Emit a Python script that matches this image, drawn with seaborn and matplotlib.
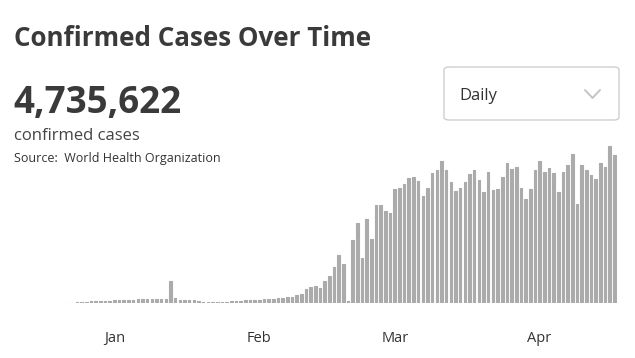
import pandas as pd
import numpy as np
import matplotlib.pyplot as plt
import seaborn as sns
from matplotlib.patches import FancyBboxPatch
from matplotlib.lines import Line2D

# daily new confirmed cases (one bar per day)
start_date = '2019-12-21'
daily_cases = [
    300, 300, 300, 600, 600, 600, 1300, 1300, 1300, 1300, 1300,
    1900, 1900, 1900, 1900, 1900,
    2500, 2500, 2800, 2800, 2500, 2500, 2200,
    13900, 3200,
    1900, 1900, 1900, 1600, 1300,
    600, 900, 900, 900, 900, 900,
    1300, 1300, 1300, 1600, 1600,
    1900, 1900, 2200, 2500, 2800, 3200, 3200, 3500, 3800,
    5000, 5700, 8800, 10100, 10700, 9500, 13900, 17000, 22700, 30200, 24600,
    1300, 39700, 50400, 28400, 52900, 40300, 61100, 61100, 57300, 56100,
    71200, 71800, 74300, 78100, 78800, 76200, 66800, 71800, 81300, 83200,
    88800, 83200, 75600, 69900, 71800, 75600, 80600, 83200, 76900, 69300,
    81900, 70600, 71200, 78800, 87600, 83800, 85100, 71800, 64900, 71200,
    83200, 88800, 81900, 84400, 81300, 69300, 81900, 86300, 93200, 61700,
    86300, 83200, 80000, 77500, 87600, 85100, 98300, 92600,
]
month_starts = ['2020-01-01', '2020-02-01', '2020-03-01', '2020-04-01']
month_labels = ['Jan', 'Feb', 'Mar', 'Apr']
total_cases = '4,735,622'

df = pd.DataFrame({'date': pd.date_range(start_date, periods=len(daily_cases)),
                   'cases': daily_cases})
df['day'] = np.arange(len(df))

sns.set_style('white')
plt.rcParams['font.family'] = ['Open Sans', 'DejaVu Sans']

W, H = 635, 358
fig = plt.figure(figsize=(W / 100, H / 100), dpi=100)
ax = fig.add_axes([60.7 / W, 55 / H, 556 / W, 159.7 / H])

bar_col = '#ababab'
sns.barplot(data=df, x='day', y='cases', color=bar_col, width=0.55,
            saturation=1, ax=ax)
for p in ax.patches:
    p.set_edgecolor(bar_col)
    p.set_linewidth(0.8)
    p.set_joinstyle('round')

ax.set_xlim(-0.5, len(df) - 0.5)
ax.set_ylim(0, 100000)
tick_days = [(pd.Timestamp(m) - pd.Timestamp(start_date)).days for m in month_starts]
ax.set_xticks(tick_days)
ax.set_xticklabels(month_labels)
ax.set_yticks([])
ax.tick_params(axis='x', length=0, pad=20, labelsize=10.5, labelcolor='#333333')
ax.set_xlabel('')
ax.set_ylabel('')
sns.despine(ax=ax, left=True, bottom=True)

# header texts
fig.text(14 / W, 1 - 46 / H, 'Confirmed Cases Over Time', fontsize=18.7,
         fontweight='bold', color='#3a3a3a', va='baseline')
fig.text(13 / W, 1 - 113 / H, total_cases, fontsize=26.5, fontweight='bold',
         color='#3a3a3a', va='baseline')
fig.text(14 / W, 1 - 140 / H, 'confirmed cases', fontsize=12,
         color='#444444', va='baseline')
fig.text(14 / W, 1 - 162 / H, 'Source:  World Health Organization', fontsize=9,
         color='#333333', va='baseline')

# dropdown box
box = FancyBboxPatch((444 / W, 1 - 120 / H), 175 / W, 53 / H,
                     boxstyle='round,pad=0,rounding_size=0.008',
                     transform=fig.transFigure, facecolor='white',
                     edgecolor='#cfcfcf', linewidth=1)
fig.patches.append(box)
fig.text(459 / W, 1 - 96 / H, 'Daily', fontsize=12, color='#333333', va='center')
fig.lines.append(Line2D([585 / W, 592.5 / W, 600 / W],
                        [1 - 90 / H, 1 - 98 / H, 1 - 90 / H],
                        transform=fig.transFigure, color='#c4c4c4', linewidth=1.4))

fig.savefig('out.png', dpi=100)
